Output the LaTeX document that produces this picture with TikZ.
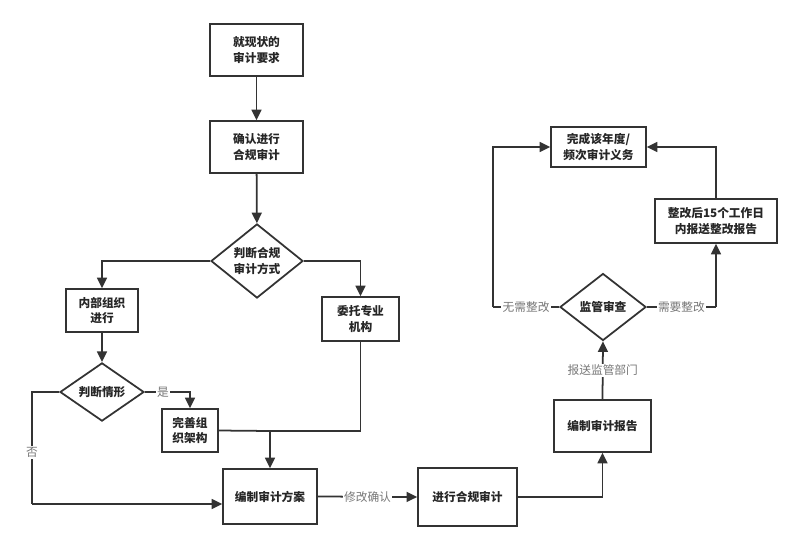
\documentclass[tikz,border=0pt]{standalone}
\usepackage{fontspec}
\newfontfamily\cjk{Noto Sans CJK SC}
\usepackage{tikz}
\usetikzlibrary{shapes.geometric,arrows.meta}
\definecolor{linegray}{HTML}{333333}
\definecolor{labelgray}{HTML}{777777}
\tikzset{
  box/.style={draw=linegray,line width=1.5pt,rectangle,align=center,inner sep=2pt,
    font=\cjk\bfseries\fontsize{10}{13.6}\selectfont,text=black!85},
  choice/.style={draw=linegray,line width=1.5pt,diamond,align=center,inner sep=0pt,
    font=\cjk\bfseries\fontsize{10}{13.6}\selectfont,text=black!85},
  arr/.style={draw=linegray,line width=1.5pt,-{Triangle[length=9pt,width=8.5pt]}},
  lin/.style={draw=linegray,line width=1.5pt},
  lbl/.style={fill=white,inner sep=1pt,text=labelgray,font=\cjk\fontsize{10}{12}\selectfont}
}
\begin{document}
\begin{tikzpicture}[x=0.03cm,y=-0.03cm]
      \useasboundingbox (0,0) rectangle (800,550);
      \node[box,minimum width=2.79cm,minimum height=1.56cm] (req) at (256.5,50) {就现状的\\审计要求};
      \node[box,minimum width=2.79cm,minimum height=1.56cm] (confirm) at (256.5,147) {确认进行\\合规审计};
      \node[choice,minimum width=2.76cm,minimum height=1.98cm] (method) at (257,261) {判断合规\\审计方式};
      \node[box,minimum width=2.16cm,minimum height=1.29cm] (inner) at (102,310.5) {内部组织\\进行};
      \node[box,minimum width=2.31cm,minimum height=1.32cm] (agency) at (360.5,319) {委托专业\\机构};
      \node[choice,minimum width=2.52cm,minimum height=1.59cm] (situation) at (102,392) {判断情形};
      \node[box,minimum width=1.68cm,minimum height=1.29cm] (improve) at (190,430.5) {完善组\\织架构};
      \node[box,minimum width=2.82cm,minimum height=1.65cm] (plan) at (270,496.5) {编制审计方案};
      \node[box,minimum width=2.97cm,minimum height=1.74cm] (perform) at (467.5,497) {进行合规审计};
      \node[box,minimum width=2.91cm,minimum height=1.56cm] (report) at (602.5,426) {编制审计报告};
      \node[choice,minimum width=2.58cm,minimum height=2.01cm] (review) at (603,307) {监管审查};
      \node[box,minimum width=2.85cm,minimum height=1.2cm] (done) at (598.5,147) {完成该年度/\\频次审计义务};
      \node[box,minimum width=3.66cm,minimum height=1.32cm] (rectify) at (716,221) {整改后15个工作日\\内报送整改报告};
      \coordinate (nobend) at (32,504);
      \coordinate (merge) at (270,431);
      \coordinate (noneed) at (493,147);

      \draw[arr] (req) -- (confirm);
      \draw[arr] (confirm) -- (method);
      \draw[arr] (method.west) -| (inner.north);
      \draw[arr] (method.east) -| (agency.north);
      \draw[arr] (inner) -- (situation);
      \draw[arr] (situation.east) -| node[lbl,pos=0.2]{是} (improve.north);
      \draw[lin] (situation.west) -| node[lbl,pos=0.77]{否} (nobend);
      \draw[arr] (nobend) -- (nobend -| plan.west);
      \draw[lin] (improve.east) -- (merge);
      \draw[lin] (agency.south) |- (merge);
      \draw[arr] (merge) -- (plan.north);
      \draw[arr] (plan.east) -- node[lbl]{修改确认} (perform.west);
      \draw[arr] (perform.east) -| (report.south);
      \draw[arr] (report.north) -- node[lbl]{报送监管部门} (review.south);
      \draw[lin] (review.west) -- node[lbl]{无需整改} (review.west -| noneed);
      \draw[arr] (review.west -| noneed) |- (done.west);
      \draw[lin] (review.east) -- node[lbl]{需要整改} (review.east -| rectify.south);
      \draw[arr] (review.east -| rectify.south) -- (rectify.south);
      \draw[arr] (rectify.north) |- (done.east);
\end{tikzpicture}
\end{document}
